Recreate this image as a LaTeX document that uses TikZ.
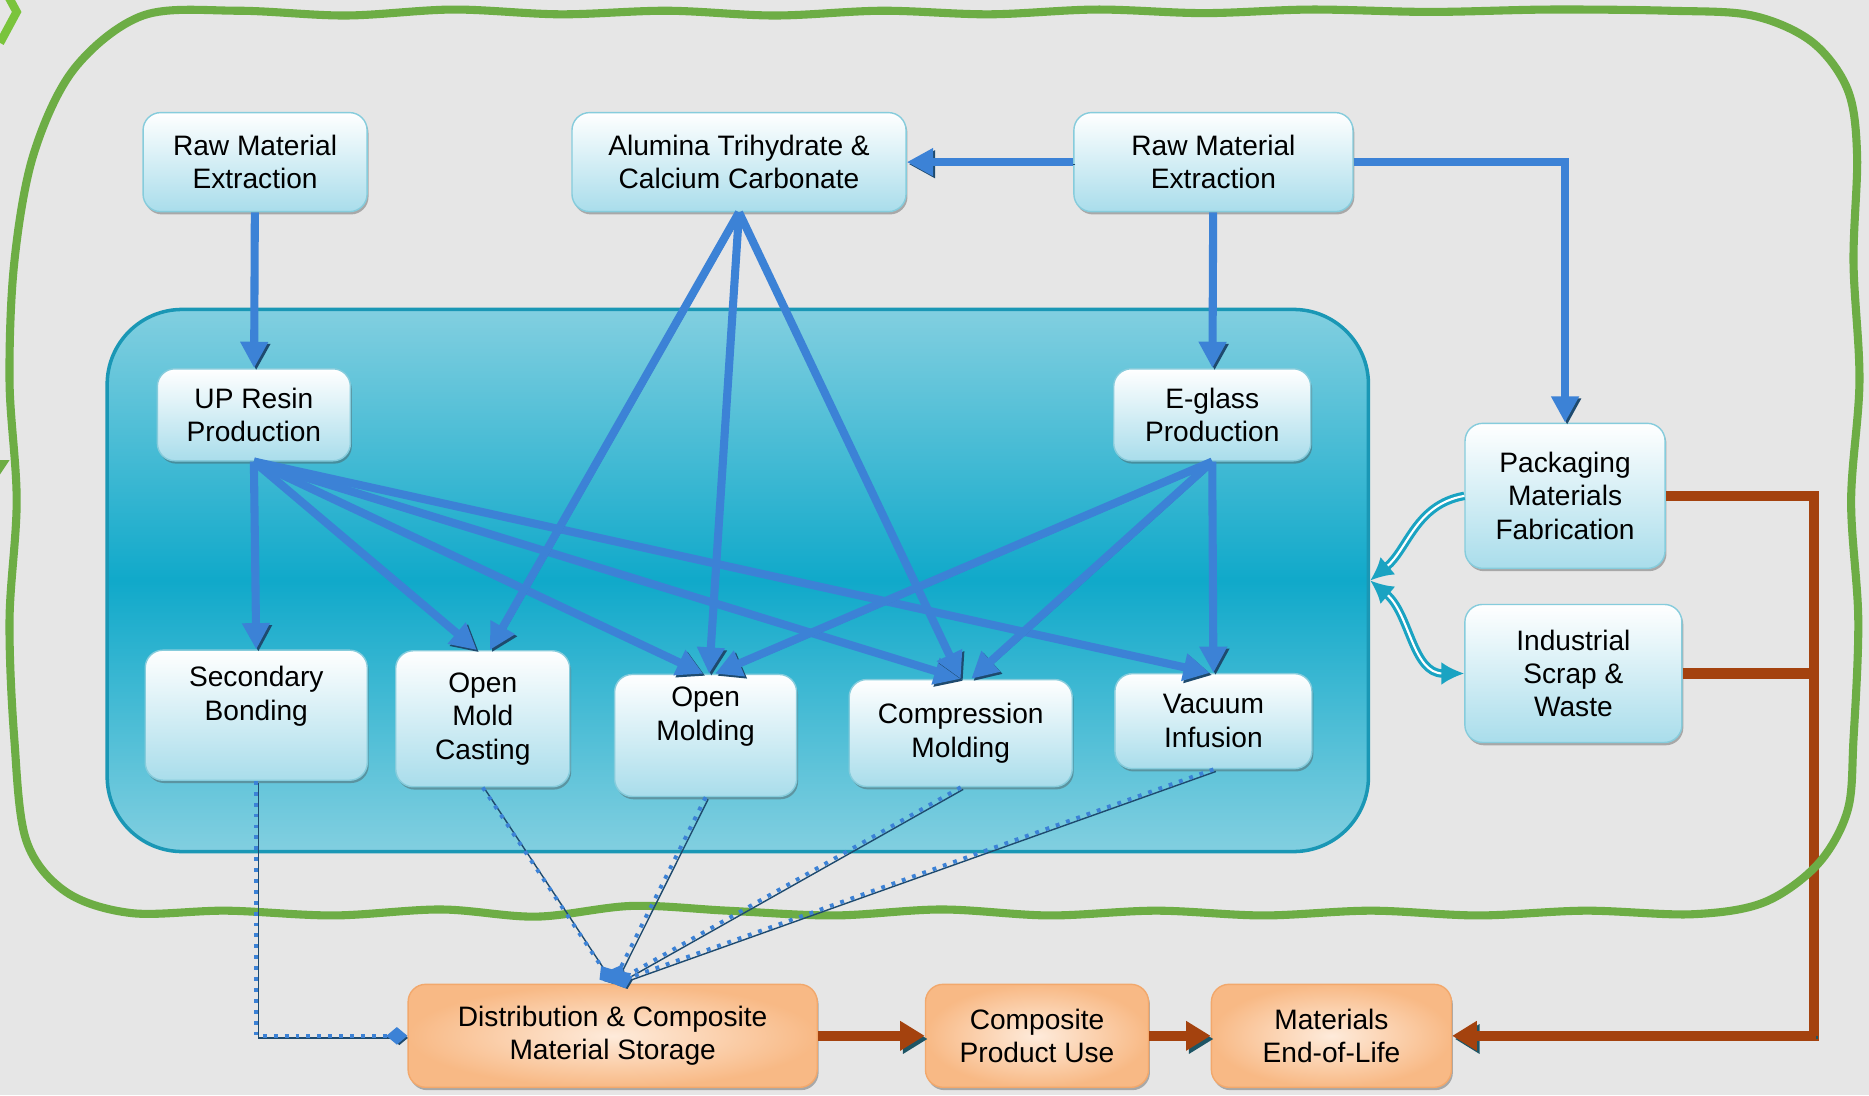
\documentclass[tikz,border=0pt]{standalone}
\usepackage{fontspec}
\setmainfont{Liberation Sans}
\usepackage{tikz}
\usetikzlibrary{arrows.meta, positioning, calc, shadows}
\definecolor{bggray}{HTML}{E6E6E6}
\definecolor{loopgreen}{HTML}{6DAD45}
\definecolor{chevgreen}{HTML}{7AC43C}
\definecolor{boxedge}{HTML}{86CCDC}
\definecolor{boxlow}{HTML}{A9DDEB}
\definecolor{procedge}{HTML}{1A97B5}
\definecolor{proclight}{HTML}{82CFE0}
\definecolor{procmid}{HTML}{10A9CA}
\definecolor{flowblue}{HTML}{3C82D6}
\definecolor{flowdark}{HTML}{1E4A6E}
\definecolor{endbrown}{HTML}{A4420E}
\definecolor{enddark}{HTML}{1E5565}
\definecolor{sinklight}{HTML}{FEEBDB}
\definecolor{sinkdark}{HTML}{F8B985}
\definecolor{sinkedge}{HTML}{F2A86C}
\definecolor{cycteal}{HTML}{1AA3C2}

\begin{document}
\begin{tikzpicture}[
  x=0.01192cm, y=-0.01192cm,
  stage/.style={
    rectangle, rounded corners=5pt, draw=boxedge, thin,
    top color=white, bottom color=boxlow, align=center,
    font=\fontsize{8}{9.5}\selectfont, inner sep=2pt,
    drop shadow={shadow xshift=0.4pt, shadow yshift=-0.8pt, opacity=0.4, fill=black!70}},
  sink/.style={
    stage, draw=sinkedge, shading=radial,
    inner color=sinklight, outer color=sinkdark},
  procbox/.style={
    rectangle, rounded corners=0.75cm, draw=procedge, line width=1pt,
    top color=proclight, bottom color=proclight, middle color=procmid},
  flow/.style={
    -{Triangle[length=7.5pt, width=7.5pt]}, line width=2.3pt, draw=flowblue,
    preaction={draw=flowdark, transform canvas={shift={(0.6pt,-0.6pt)}}}},
  store/.style={
    -{Diamond[length=6pt, width=5pt]}, dotted, line width=1.1pt, draw=flowblue,
    preaction={draw=flowdark, transform canvas={shift={(0.7pt,-0.6pt)}}}},
  wasteline/.style={
    line width=2.9pt, draw=endbrown,
    preaction={draw=enddark, transform canvas={shift={(0.8pt,-0.9pt)}}}},
  waste/.style={wasteline, -{Triangle[length=7pt, width=8pt]}},
  cyc/.style={
    draw=cycteal, line width=0.9pt, double=white, double distance=0.6pt,
    -{Latex[length=6.5pt, width=6.5pt]}},
  loop/.style={draw=loopgreen, line width=2.3pt},
]
  \useasboundingbox (0,0) rectangle (1568,919);
  \fill[bggray] (0,0) rectangle (1568,919);

  % process area
  \node[procbox, minimum width=12.61cm, minimum height=5.42cm] (proc) at (619,487) {};

  % raw materials
  \node[stage, minimum width=2.24cm, minimum height=0.99cm] (rmeL) at (214,136) {Raw Material\\Extraction};
  \node[stage, minimum width=3.34cm, minimum height=0.99cm] (ath) at (620,136) {Alumina Trihydrate \&\\Calcium Carbonate};
  \node[stage, minimum width=2.79cm, minimum height=0.99cm] (rmeR) at (1018,136) {Raw Material\\Extraction};

  % production
  \node[stage, minimum width=1.93cm, minimum height=0.92cm] (upr) at (213,348) {UP Resin\\Production};
  \node[stage, minimum width=1.97cm, minimum height=0.92cm] (egl) at (1017,348) {E-glass\\Production};

  % fabrication
  \node[stage, minimum width=2.22cm, minimum height=1.30cm] (sec) at (215,600) {Secondary\\Bonding\\\strut};
  \node[stage, minimum width=1.74cm, minimum height=1.36cm] (omc) at (405,603) {Open\\Mold\\Casting};
  \node[stage, minimum width=1.82cm, minimum height=1.22cm] (omo) at (592,617) {Open\\Molding\\\strut};
  \node[stage, minimum width=2.23cm, minimum height=1.07cm] (cmo) at (806,615) {Compression\\Molding};
  \node[stage, minimum width=1.97cm, minimum height=0.95cm] (vin) at (1018,605) {Vacuum\\Infusion};

  % packaging and scrap
  \node[stage, minimum width=2.00cm, minimum height=1.45cm] (pkg) at (1313,416) {Packaging\\Materials\\Fabrication};
  \node[stage, minimum width=2.17cm, minimum height=1.38cm] (isw) at (1320,565) {Industrial\\Scrap \&\\Waste};

  % use and end of life
  \node[sink, minimum width=4.09cm, minimum height=1.03cm] (dist) at (514,869) {Distribution \& Composite\\Material Storage};
  \node[sink, minimum width=2.23cm, minimum height=1.03cm] (cpu) at (870,869) {Composite\\Product Use};
  \node[sink, minimum width=2.40cm, minimum height=1.03cm] (endlife) at (1117,869) {Materials\\End-of-Life};

  % Raw material flows
  \draw[flow] (rmeL) -- (upr);
  \draw[flow] (rmeR) -- (ath);
  \draw[flow] (rmeR) -- (egl);
  \draw[flow] (rmeR.east) -| (pkg.north);

  % Resin
  \foreach \t/\dx in {sec/0pt, omc/-1.7pt, omo/-0.7pt, cmo/0pt, vin/-1pt}
    \draw[flow] (upr.south) -- ([xshift=\dx]\t.north);

  % Fillers
  \foreach \t/\dx in {omc/2pt, omo/1pt, cmo/0pt}
    \draw[flow] (ath.south) -- ([xshift=\dx]\t.north);

  % Glass fibre
  \foreach \t/\dx in {omo/2.7pt, cmo/3pt, vin/0pt}
    \draw[flow] (egl.south) -- ([xshift=\dx]\t.north);

  % Packaging and scrap loop
  \draw[cyc] (pkg.west) to[out=190, in=40] (proc.east);
  \draw[cyc, {Latex[length=6.5pt, width=6.5pt]}-{Latex[length=6.5pt, width=6.5pt]}] (proc.east) to[out=-40, in=180] (isw.west);

  % End of life
  \draw[waste] (dist) -- (cpu);
  \draw[waste] (cpu) -- (endlife);
  \coordinate (rc) at (1522,869);
  \draw[waste] (pkg.east) -| (rc) -- (endlife.east);
  \draw[wasteline] (isw.east) -| (rc);

  % outline
  \draw[loop] plot[smooth cycle, tension=0.55] coordinates {
    (120,13) (200,9) (290,13) (380,8) (470,12) (560,9) (650,13) (740,9)
    (830,12) (920,8) (1010,11) (1100,8) (1200,10) (1300,8) (1400,9) (1470,13)
    (1520,35) (1550,75) (1558,130) (1555,220) (1560,320) (1553,420)
    (1559,520) (1555,620) (1550,680) (1525,725) (1480,757) (1420,767)
    (1330,764) (1240,768) (1150,764) (1060,768) (970,764) (880,768)
    (790,763) (700,768) (610,764) (530,760) (450,769) (370,763)
    (280,768) (190,764) (110,766) (55,748) (22,705) (12,620) (8,520)
    (14,420) (8,320) (12,220) (28,130) (62,58)};
  \draw[chevgreen, line width=2.4pt] (7,-3) -- (14,10) -- (0,36);
  \fill[loopgreen] (0,386) -- (8,386) -- (0,398) -- cycle;

  % Distribution
  \draw[store] (sec.south) |- (dist.west);
  \foreach \s in {omc, omo, cmo, vin}
    \draw[store] (\s.south) -- (dist.north);
\end{tikzpicture}
\end{document}
